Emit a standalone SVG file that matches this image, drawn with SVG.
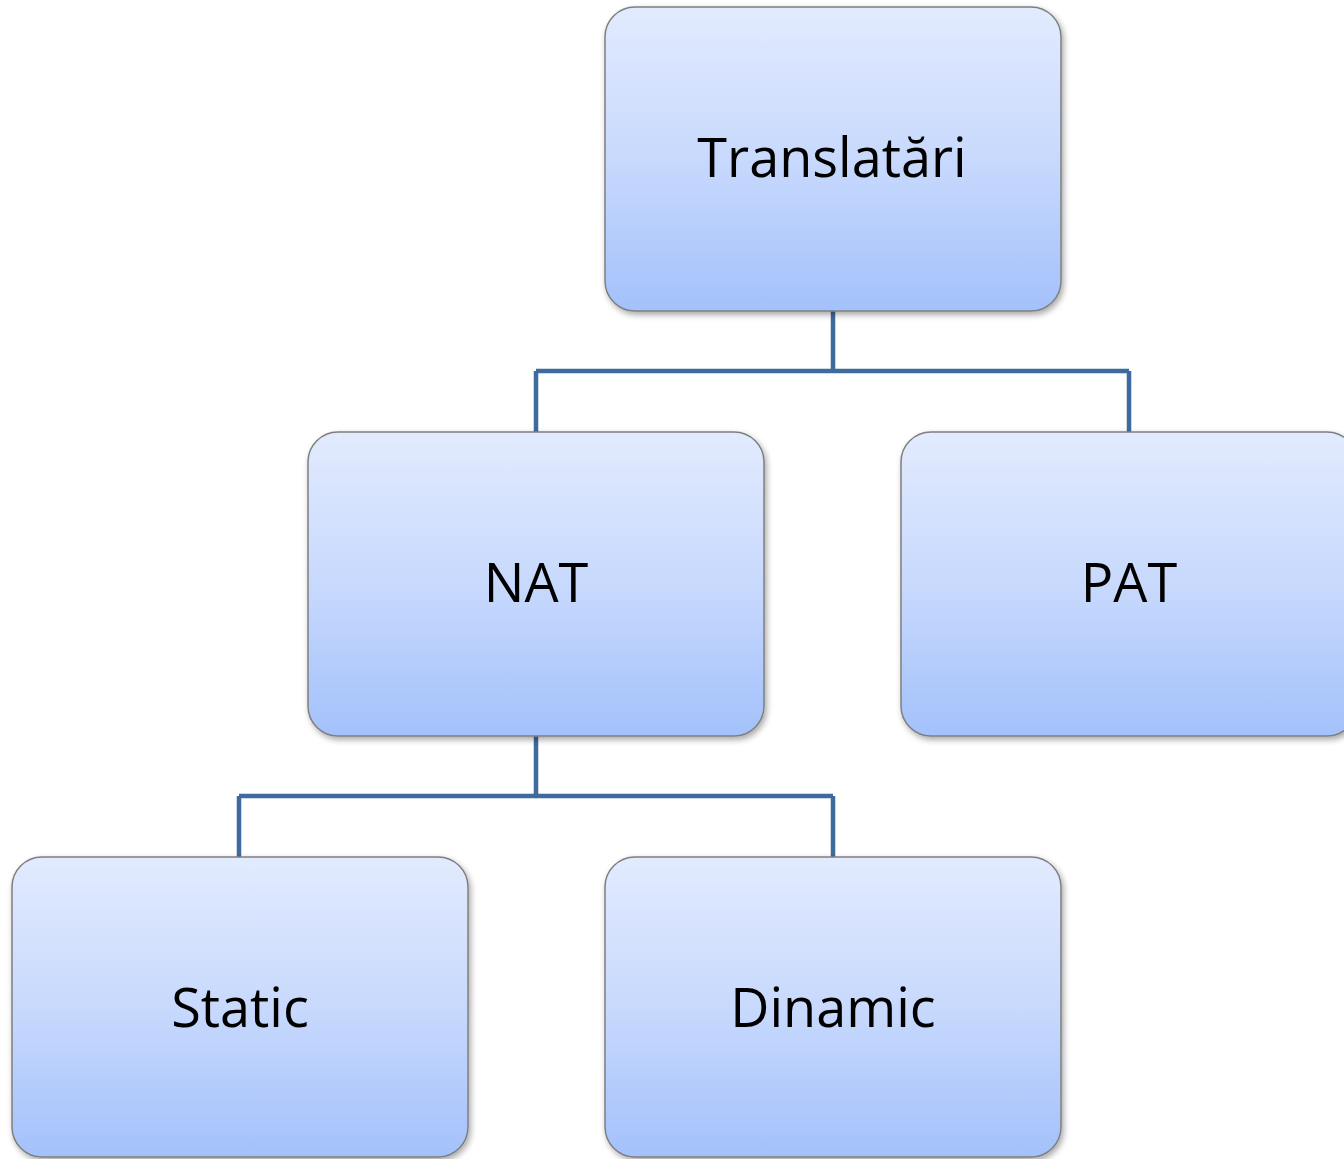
<svg xmlns="http://www.w3.org/2000/svg" width="1344" height="1159" viewBox="0 0 1344 1159">
<style>
.box{fill:url(#g);stroke:#7f7f7f;stroke-width:1.5;filter:url(#sh)}
.lbl{font-family:"Open Sans","Liberation Sans",sans-serif;font-size:54px;fill:#000;text-anchor:middle}
.con{fill:none;stroke:#3e6a9d;stroke-width:4.5}
</style>
<defs>
<linearGradient id="g" x1="0" y1="0" x2="0" y2="1">
<stop offset="0" stop-color="#e2ebfe"/>
<stop offset="0.5" stop-color="#c8d9fd"/>
<stop offset="1" stop-color="#a3c1fb"/>
</linearGradient>
<filter id="sh" x="-10%" y="-10%" width="120%" height="120%">
<feGaussianBlur in="SourceAlpha" stdDeviation="3"/>
<feOffset dx="2" dy="3"/>
<feComponentTransfer><feFuncA type="linear" slope="0.35"/></feComponentTransfer>
<feMerge><feMergeNode/><feMergeNode in="SourceGraphic"/></feMerge>
</filter>
</defs>
<rect width="1344" height="1159" fill="#fff"/>
<g id="connectors">
<path class="con" d="M833 311V371M536 371H1129M536 371V432M1129 371V432"/>
<path class="con" d="M536 736V796M239 796H833M239 796V857M833 796V857"/>
</g>
<g id="translatari"><rect class="box" x="605" y="7" width="456" height="304" rx="30"/><text class="lbl" x="832" y="177">Translatări</text></g>
<g id="nat"><rect class="box" x="308" y="432" width="456" height="304" rx="30"/><text class="lbl" x="536" y="602">NAT</text></g>
<g id="pat"><rect class="box" x="901" y="432" width="456" height="304" rx="30"/><text class="lbl" x="1129" y="602">PAT</text></g>
<g id="static"><rect class="box" x="12" y="857" width="456" height="300" rx="30"/><text class="lbl" x="240" y="1027">Static</text></g>
<g id="dinamic"><rect class="box" x="605" y="857" width="456" height="300" rx="30"/><text class="lbl" x="833" y="1027">Dinamic</text></g>
</svg>
